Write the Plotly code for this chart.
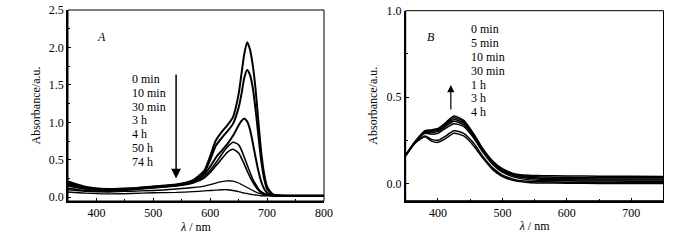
import plotly.graph_objects as go

# ---------------- Panel A data ----------------
wl_a = [350, 380, 420, 460, 500, 540, 570, 590, 600, 610, 620, 630, 640, 650, 655,
        660, 665, 670, 675, 680, 685, 690, 695, 700, 710, 725, 750, 800]
labels_a = ["0 min", "10 min", "30 min", "3 h", "4 h", "50 h", "74 h"]
a_0min = [0.21, 0.14, 0.11, 0.12, 0.145, 0.17, 0.23, 0.36, 0.55, 0.76, 0.87, 0.96, 1.07, 1.38, 1.65,
          1.92, 2.07, 1.97, 1.75, 1.42, 0.98, 0.58, 0.30, 0.14, 0.04, 0.025, 0.02, 0.02]
a_10min = [0.19, 0.13, 0.10, 0.115, 0.14, 0.165, 0.22, 0.34, 0.50, 0.69, 0.79, 0.88, 0.98, 1.20, 1.38,
           1.60, 1.70, 1.63, 1.45, 1.15, 0.80, 0.47, 0.24, 0.11, 0.035, 0.02, 0.02, 0.02]
a_30min = [0.17, 0.12, 0.095, 0.11, 0.135, 0.16, 0.21, 0.31, 0.41, 0.53, 0.62, 0.71, 0.82, 0.96, 1.02,
           1.05, 1.01, 0.90, 0.72, 0.52, 0.34, 0.20, 0.11, 0.06, 0.025, 0.02, 0.02, 0.02]
a_3h = [0.15, 0.11, 0.09, 0.105, 0.13, 0.155, 0.20, 0.28, 0.36, 0.46, 0.57, 0.67, 0.735, 0.70, 0.63,
        0.53, 0.43, 0.33, 0.24, 0.17, 0.11, 0.07, 0.05, 0.035, 0.02, 0.02, 0.02, 0.02]
a_4h = [0.12, 0.09, 0.08, 0.10, 0.125, 0.15, 0.19, 0.26, 0.33, 0.42, 0.51, 0.60, 0.64, 0.59, 0.52,
        0.44, 0.35, 0.27, 0.20, 0.14, 0.09, 0.06, 0.04, 0.03, 0.02, 0.02, 0.02, 0.02]
a_50h = [0.10, 0.08, 0.07, 0.08, 0.09, 0.11, 0.13, 0.15, 0.17, 0.19, 0.21, 0.22, 0.215, 0.19, 0.17,
         0.15, 0.13, 0.11, 0.09, 0.07, 0.055, 0.045, 0.035, 0.03, 0.02, 0.02, 0.02, 0.02]
a_74h = [0.07, 0.055, 0.045, 0.05, 0.06, 0.065, 0.075, 0.085, 0.09, 0.095, 0.10, 0.10, 0.09, 0.075, 0.065,
         0.055, 0.05, 0.04, 0.035, 0.03, 0.025, 0.02, 0.02, 0.02, 0.02, 0.02, 0.02, 0.02]
series_a = [a_0min, a_10min, a_30min, a_3h, a_4h, a_50h, a_74h]
widths_a = [2.0, 2.0, 2.0, 1.6, 1.6, 1.3, 1.3]

# ---------------- Panel B data ----------------
wl_b = [350, 365, 380, 390, 400, 410, 425, 440, 455, 470, 485, 500, 520, 540, 560, 600, 650, 700, 750]
labels_b = ["0 min", "5 min", "10 min", "30 min", "1 h", "3 h", "4 h"]
b_0min = [0.160, 0.235, 0.270, 0.245, 0.238, 0.255, 0.290, 0.275, 0.220, 0.145, 0.080, 0.040, 0.015,
          0.006, 0.003, 0.001, 0.000, 0.000, 0.000]
b_5min = [0.160, 0.237, 0.275, 0.255, 0.250, 0.270, 0.305, 0.290, 0.235, 0.155, 0.090, 0.048, 0.022,
          0.012, 0.009, 0.007, 0.006, 0.006, 0.006]
b_10min = [0.162, 0.240, 0.290, 0.285, 0.290, 0.315, 0.345, 0.330, 0.265, 0.180, 0.110, 0.065, 0.035,
           0.022, 0.017, 0.015, 0.014, 0.013, 0.013]
b_30min = [0.163, 0.242, 0.295, 0.295, 0.300, 0.325, 0.360, 0.340, 0.275, 0.188, 0.117, 0.072, 0.042,
           0.030, 0.024, 0.021, 0.020, 0.020, 0.020]
b_1h = [0.164, 0.243, 0.300, 0.300, 0.307, 0.333, 0.370, 0.350, 0.282, 0.193, 0.122, 0.077, 0.047,
        0.036, 0.030, 0.027, 0.026, 0.026, 0.026]
b_3h = [0.165, 0.244, 0.303, 0.305, 0.313, 0.340, 0.380, 0.358, 0.286, 0.197, 0.126, 0.081, 0.051,
        0.041, 0.037, 0.034, 0.033, 0.033, 0.033]
b_4h = [0.165, 0.245, 0.305, 0.310, 0.318, 0.345, 0.390, 0.365, 0.290, 0.200, 0.130, 0.085, 0.055,
        0.047, 0.045, 0.043, 0.042, 0.041, 0.040]
series_b = [b_0min, b_5min, b_10min, b_30min, b_1h, b_3h, b_4h]

FONT = "Liberation Serif"
W, H = 700, 240

fig = go.Figure()
for ys, name, w in zip(series_a, labels_a, widths_a):
    fig.add_trace(go.Scatter(x=wl_a, y=ys, mode="lines", name=name,
                             line=dict(color="black", width=w, shape="spline", smoothing=0.6),
                             xaxis="x", yaxis="y", showlegend=False))
for ys, name in zip(series_b, labels_b):
    fig.add_trace(go.Scatter(x=wl_b, y=ys, mode="lines", name=name,
                             line=dict(color="black", width=1.5, shape="spline", smoothing=0.6),
                             xaxis="x2", yaxis="y2", showlegend=False))

axis_common = dict(showline=True, linecolor="black", linewidth=1.6, mirror=False,
                   ticks="inside", ticklen=3, tickwidth=1, tickcolor="black",
                   showgrid=False, zeroline=False, automargin=False,
                   tickfont=dict(family=FONT, size=12, color="black"))

fig.update_layout(
    width=W, height=H,
    margin=dict(l=0, r=0, t=0, b=0),
    paper_bgcolor="white", plot_bgcolor="white",
    font=dict(family=FONT, size=12, color="black"),
    xaxis=dict(domain=[68 / W, 324 / W], range=[350, 800], dtick=100, tick0=0,
               minor=dict(ticks="inside", ticklen=2, dtick=50, tickcolor="black"),
               title=dict(text="<i>λ</i> / nm", font=dict(family=FONT, size=12), standoff=3),
               anchor="y", **axis_common),
    yaxis=dict(domain=[1 - 201 / H, 1 - 10 / H], range=[-0.05, 2.5], dtick=0.5, tick0=0, tickformat=".1f",
               minor=dict(ticks="inside", ticklen=2, dtick=0.25, tickcolor="black"),
               title=dict(text="Absorbance/a.u.", font=dict(family=FONT, size=12), standoff=6),
               anchor="x", **axis_common),
    xaxis2=dict(domain=[405.7 / W, 663.5 / W], range=[350, 750], dtick=100, tick0=0,
                minor=dict(ticks="inside", ticklen=2, dtick=50, tickcolor="black"),
                title=dict(text="<i>λ</i> / nm", font=dict(family=FONT, size=12), standoff=3),
                anchor="y2", **axis_common),
    yaxis2=dict(domain=[1 - 200.7 / H, 1 - 10.7 / H], range=[-0.1, 1.0], dtick=0.5, tick0=0, tickformat=".1f",
                minor=dict(ticks="inside", ticklen=2, dtick=0.25, tickcolor="black"),
                title=dict(text="Absorbance/a.u.", font=dict(family=FONT, size=12), standoff=6),
                anchor="x2", **axis_common),
)

# thin frame (top/right)
for xr, yr in [("x domain", "y domain"), ("x2 domain", "y2 domain")]:
    fig.add_shape(type="rect", xref=xr, yref=yr, x0=0, x1=1, y0=0, y1=1,
                  line=dict(color="black", width=1))

# Panel labels
fig.add_annotation(x=95 / W, y=1 - 28 / H, xref="paper", yref="paper", text="<i>A</i>",
                   showarrow=False, font=dict(family=FONT, size=12))
fig.add_annotation(x=431 / W, y=1 - 28 / H, xref="paper", yref="paper", text="<i>B</i>",
                   showarrow=False, font=dict(family=FONT, size=12))

# time lists (one line each)
for i, t in enumerate(labels_a):
    ypx = 79.3 + i * 13.7
    fig.add_annotation(x=130 / W, y=1 - ypx / H, xref="paper", yref="paper", text=t,
                       showarrow=False, xanchor="left", yanchor="middle",
                       font=dict(family=FONT, size=12))
for i, t in enumerate(labels_b):
    ypx = 29.3 + i * 13.8
    fig.add_annotation(x=468.5 / W, y=1 - ypx / H, xref="paper", yref="paper", text=t,
                       showarrow=False, xanchor="left", yanchor="middle",
                       font=dict(family=FONT, size=12))

# arrows
fig.add_annotation(x=540, y=0.25, xref="x", yref="y", ax=540, ay=1.66, axref="x", ayref="y",
                   showarrow=True, arrowhead=2, arrowsize=1.3, arrowwidth=1.5, arrowcolor="black", text="")
fig.add_annotation(x=420, y=0.57, xref="x2", yref="y2", ax=420, ay=0.42, axref="x2", ayref="y2",
                   showarrow=True, arrowhead=2, arrowsize=1.2, arrowwidth=1.2, arrowcolor="black", text="")

fig.write_html("out.html", config={"displayModeBar": False},
               post_script="document.body.style.margin='0px';document.body.style.padding='0px';")
